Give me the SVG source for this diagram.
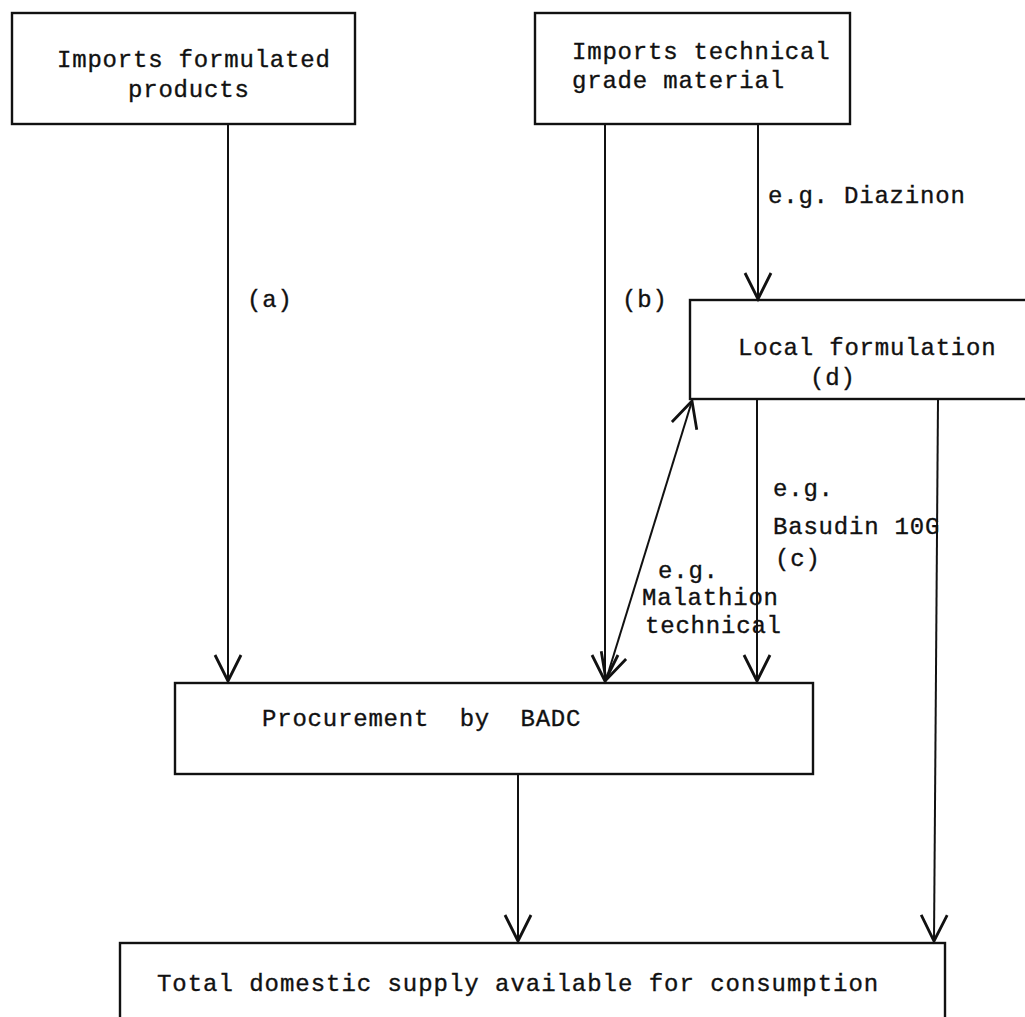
<svg xmlns="http://www.w3.org/2000/svg" width="1025" height="1017" viewBox="0 0 1025 1017">
<style>
.box{fill:none;stroke:#111;stroke-width:2.4}
.ln{fill:none;stroke:#111;stroke-width:2}
.t{font-family:"Liberation Mono","DejaVu Sans Mono",monospace;font-size:24px;letter-spacing:0.8px;fill:#111;stroke:#111;stroke-width:0.35;white-space:pre}
</style>
<defs>
<marker id="ah" markerUnits="userSpaceOnUse" markerWidth="40" markerHeight="40" refX="0" refY="0" orient="auto-start-reverse" overflow="visible">
<path d="M-26,-13 L0,0 L-26,13" fill="none" stroke="#111" stroke-width="2.8" stroke-linejoin="miter"/>
</marker>
</defs>
<rect width="1025" height="1017" fill="#fff"/>
<g id="connectors">
<line class="ln" x1="228" y1="124" x2="228" y2="681" marker-end="url(#ah)"/>
<line class="ln" x1="605" y1="124" x2="605" y2="681" marker-end="url(#ah)"/>
<line class="ln" x1="758" y1="124" x2="758" y2="299" marker-end="url(#ah)"/>
<line class="ln" x1="757" y1="399" x2="757" y2="681" marker-end="url(#ah)"/>
<line class="ln" x1="938" y1="399" x2="934" y2="941" marker-end="url(#ah)"/>
<line class="ln" x1="518" y1="774" x2="518" y2="941" marker-end="url(#ah)"/>
<line class="ln" x1="606" y1="680" x2="692" y2="401" marker-start="url(#ah)" marker-end="url(#ah)"/>
<text class="t" x="247" y="307">(a)</text>
<text class="t" x="622" y="307">(b)</text>
<text class="t" x="768" y="203">e.g. Diazinon</text>
<text class="t" x="773" y="496">e.g.</text>
<text class="t" x="773" y="534">Basudin 10G</text>
<text class="t" x="775" y="566">(c)</text>
<text class="t" x="658" y="578">e.g.</text>
<text class="t" x="642" y="605">Malathion</text>
<text class="t" x="645" y="633">technical</text>
</g>
<g id="imports-formulated">
<rect class="box" x="12" y="13" width="343" height="111"/>
<text class="t" x="57" y="67">Imports formulated</text>
<text class="t" x="128" y="97">products</text>
</g>
<g id="imports-technical">
<rect class="box" x="535" y="13" width="315" height="111"/>
<text class="t" x="572" y="59">Imports technical</text>
<text class="t" x="572" y="88">grade material</text>
</g>
<g id="local-formulation">
<rect class="box" x="690" y="300" width="345" height="99"/>
<text class="t" x="738" y="355">Local formulation</text>
<text class="t" x="810" y="385">(d)</text>
</g>
<g id="procurement">
<rect class="box" x="175" y="683" width="638" height="91"/>
<text class="t" x="262" y="726" xml:space="preserve">Procurement  by  BADC</text>
</g>
<g id="total-supply">
<rect class="box" x="120" y="943" width="825" height="90"/>
<text class="t" x="157" y="991" textLength="722" lengthAdjust="spacing">Total domestic supply available for consumption</text>
</g>
</svg>
